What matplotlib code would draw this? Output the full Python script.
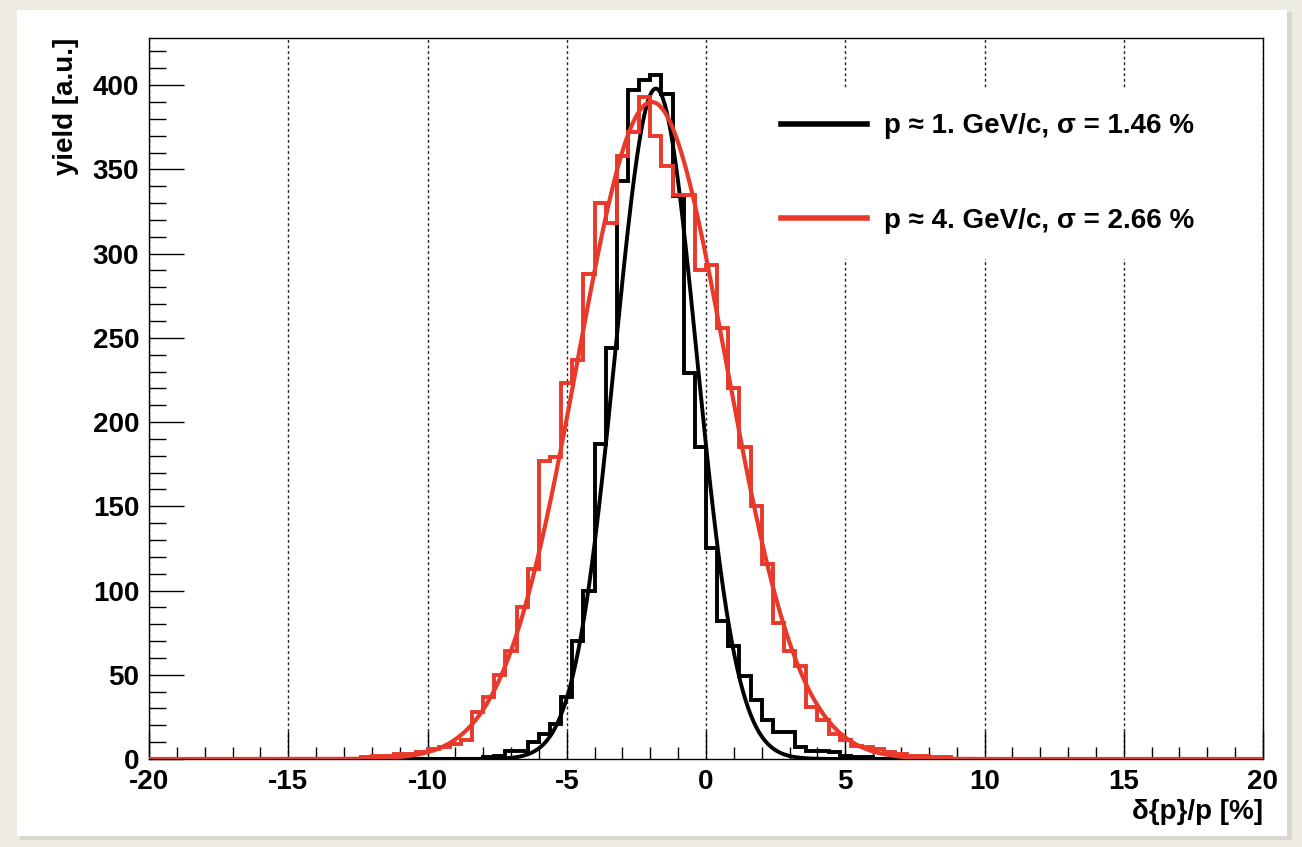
import numpy as np
import matplotlib.pyplot as plt
from matplotlib.patches import Rectangle

# ---------- data ----------
bin_edges = np.linspace(-20, 20, 101)   # 100 bins, width 0.4 %

black_counts = [
    0, 0, 0, 0, 0, 0, 0, 0, 0, 0,
    0, 0, 0, 0, 0, 0, 0, 0, 0, 0,
    0, 0, 0, 0, 0, 0, 0, 0, 0, 0,
    1, 2, 5, 5, 10, 15, 21, 37, 70, 100,
    187, 244, 343, 397, 403, 406, 395, 334, 229, 185,
    125, 82, 67, 49, 35, 23, 16, 16, 7, 5,
    5, 4, 2, 1, 1, 0, 0, 0, 0, 0,
    0, 0, 0, 0, 0, 0, 0, 0, 0, 0,
    0, 0, 0, 0, 0, 0, 0, 0, 0, 0,
    0, 0, 0, 0, 0, 0, 0, 0, 0, 0,
]

red_counts = [
    0, 0, 0, 0, 0, 0, 0, 0, 0, 0,
    0, 0, 0, 0, 0, 0, 0, 0, 0, 1,
    2, 2, 3, 3, 4, 6, 7, 9, 11, 28,
    37, 50, 64, 90, 113, 177, 179, 223, 237, 288,
    330, 318, 358, 372, 393, 370, 352, 335, 335, 290,
    293, 256, 220, 185, 150, 116, 81, 64, 55, 31,
    23, 15, 11, 8, 7, 6, 4, 3, 2, 2,
    1, 1, 0, 0, 0, 0, 0, 0, 0, 0,
    0, 0, 0, 0, 0, 0, 0, 0, 0, 0,
    0, 0, 0, 0, 0, 0, 0, 0, 0, 0,
]

# gaussian fit parameters (amplitude, mean, sigma)
black_fit = (398, -1.8, 1.46)
red_fit = (390, -1.95, 2.66)
black_fit_range = (-12, 8)
red_fit_range = (-20, 20)

labels = ["p \u2248 1. GeV/c, \u03c3 = 1.46 %", "p \u2248 4. GeV/c, \u03c3 = 2.66 %"]

RED = "#e8392a"


def gauss(x, a, mu, s):
    return a * np.exp(-0.5 * ((x - mu) / s) ** 2)


plt.rcParams["font.family"] = ["Liberation Sans", "DejaVu Sans"]
plt.rcParams["font.weight"] = "bold"
plt.rcParams["axes.unicode_minus"] = False

fig = plt.figure(figsize=(13.02, 8.47), dpi=100)
fig.patch.set_facecolor("#edebe2")

# white panel with a soft shadow
fig.patches.append(Rectangle((20 / 1302, 1 - 840 / 847), 1272 / 1302, 828 / 847,
                             transform=fig.transFigure, facecolor="#d9d7cf",
                             edgecolor="none", zorder=-2))
fig.patches.append(Rectangle((17 / 1302, 1 - 836 / 847), 1270 / 1302, 826 / 847,
                             transform=fig.transFigure, facecolor="white",
                             edgecolor="none", zorder=-1))

ax = fig.add_axes([149 / 1302, 1 - 759 / 847, 1114 / 1302, 721 / 847])
ax.set_facecolor("white")

# histograms + fits
ax.stairs(black_counts, bin_edges, color="black", lw=2.8, zorder=3)
xb = np.linspace(*black_fit_range, 600)
ax.plot(xb, gauss(xb, *black_fit), color="black", lw=2.8, zorder=3, label=labels[0])
ax.stairs(red_counts, bin_edges, color=RED, lw=2.8, zorder=4)
xr = np.linspace(*red_fit_range, 800)
ax.plot(xr, gauss(xr, *red_fit), color=RED, lw=3.0, zorder=4, label=labels[1])

ax.set_xlim(-20, 20)
ax.set_ylim(0, 428)

# ticks ROOT style
ax.set_xticks(np.arange(-20, 21, 5))
ax.set_xticks(np.arange(-20, 21, 1), minor=True)
ax.set_yticks(np.arange(0, 401, 50))
ax.set_yticks(np.arange(0, 421, 10), minor=True)
ax.tick_params(axis="both", which="both", direction="in", top=False, right=False,
               labelsize=20, width=1.0)
ax.tick_params(axis="x", which="major", length=20, pad=7)
ax.tick_params(axis="x", which="minor", length=9)
ax.tick_params(axis="y", which="major", length=25, pad=7)
ax.tick_params(axis="y", which="minor", length=12.5)
for lab in ax.get_xticklabels() + ax.get_yticklabels():
    lab.set_fontweight("bold")
for sp in ax.spines.values():
    sp.set_linewidth(1.0)

# dotted vertical grid at major x ticks
ax.grid(axis="x", which="major", linestyle=(0, (2, 2)), color="#222222", lw=1.0)
ax.set_axisbelow(True)

ax.text(1.0, -0.055, "\u03b4{p}/p [%]", transform=ax.transAxes, ha="right", va="top",
        fontsize=20, fontweight="bold")
fig.text(66 / 1302, 1 - 38 / 847, "yield [a.u.]", rotation=90, ha="center", va="top",
         fontsize=20, fontweight="bold")

leg = ax.legend(loc="upper left", bbox_to_anchor=(0.545, 0.93), frameon=True,
                fancybox=False, edgecolor="none", facecolor="white", framealpha=1,
                fontsize=20, handlelength=3.1, handletextpad=0.6, labelspacing=2.45,
                borderpad=0.9, borderaxespad=0)
for line in leg.get_lines():
    line.set_linewidth(4)
for t in leg.get_texts():
    t.set_fontweight("bold")

fig.savefig("out.png", dpi=100, facecolor=fig.get_facecolor())
